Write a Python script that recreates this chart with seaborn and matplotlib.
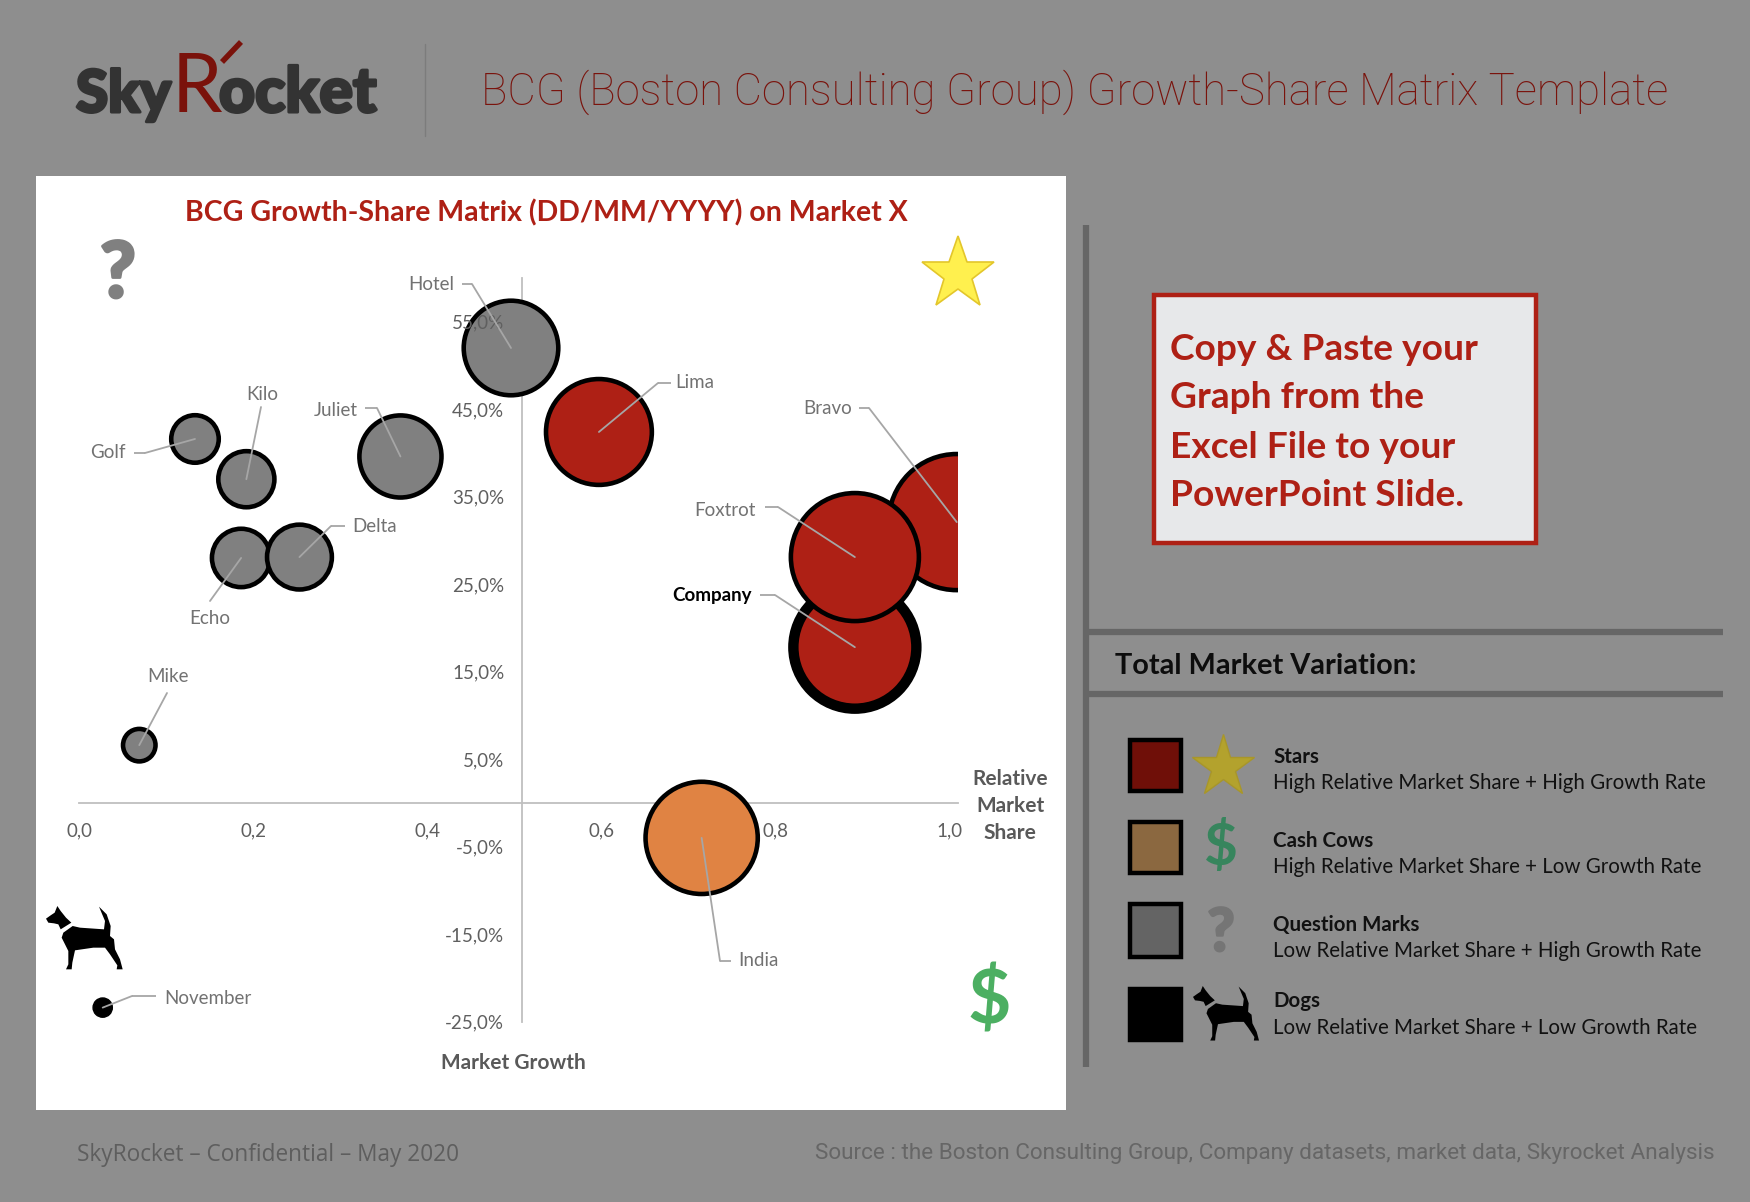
import matplotlib
matplotlib.use("Agg")
import matplotlib.pyplot as plt
from matplotlib.patches import Polygon, Rectangle
import matplotlib.patheffects as pe
import pandas as pd
import seaborn as sns

names = ["Bravo", "Company", "Foxtrot", "Hotel", "Lima", "Juliet", "Golf", "Kilo", "Echo", "Delta", "Mike", "India", "November"]
share = [1.008, 0.891, 0.891, 0.496, 0.597, 0.369, 0.133, 0.192, 0.186, 0.253, 0.069, 0.715, 0.027]
growth = [32.1, 17.8, 28.1, 52.0, 42.4, 39.6, 41.6, 37.0, 28.0, 28.1, 6.6, -4.0, -23.4]
market_size = [100, 81.7, 88.5, 48.3, 60.5, 36.4, 12.2, 17, 18.4, 22.7, 5.7, 68, 2]
quadrant = ["Stars", "Stars", "Stars", "Question Marks", "Stars", "Question Marks", "Question Marks",
            "Question Marks", "Question Marks", "Question Marks", "Question Marks", "Cash Cows", "Dogs"]
xticks = [0.0, 0.2, 0.4, 0.6, 0.8, 1.0]
xticklabels = ["0,0", "0,2", "0,4", "0,6", "0,8", "1,0"]
yticks = [-25, -15, -5, 5, 15, 25, 35, 45, 55]
yticklabels = ["-25,0%", "-15,0%", "-5,0%", "5,0%", "15,0%", "25,0%", "35,0%", "45,0%", "55,0%"]
legend_heads = ["Stars", "Cash Cows", "Question Marks", "Dogs"]
legend_subs = ["High Relative Market Share + High Growth Rate", "High Relative Market Share + Low Growth Rate",
               "Low Relative Market Share + High Growth Rate", "Low Relative Market Share + Low Growth Rate"]
callout = ["Copy & Paste your", "Graph from the", "Excel File to your", "PowerPoint Slide."]

sns.set_theme(style="white")
plt.rcParams["font.family"] = ["Lato", "DejaVu Sans"]

GRID = "#BFBFBF"
LABEL = "#727272"
TICK = "#5F5F5F"
palette = {"Stars": "#AE2015", "Cash Cows": "#E08343", "Question Marks": "#808080", "Dogs": "#000000"}

fig = plt.figure(figsize=(17.5, 12.02), dpi=100, facecolor="#8E8E8E")
bg = fig.add_axes([0, 0, 1, 1], zorder=0)
bg.set_xlim(0, 1750)
bg.set_ylim(1202, 0)
bg.axis("off")

# white chart panel
bg.add_patch(Rectangle((36, 176), 1030, 934, fc="white", ec="none"))

# main bubble axes
L, R, T, B = 79.2, 957.6, 278, 1021.6
ax = fig.add_axes([L / 1750, 1 - B / 1202, (R - L) / 1750, (B - T) / 1202], zorder=1)
ax.patch.set_visible(False)
df = pd.DataFrame({"name": names, "share": share, "growth": growth, "size": market_size, "quadrant": quadrant})
sns.scatterplot(data=df, x="share", y="growth", hue="quadrant", palette=palette, size="size",
                sizes=(0, 9600), size_norm=(0, 100), legend=False, edgecolor="black", linewidth=3.3,
                ax=ax, zorder=2)
coll = ax.collections[0]
coll.set_linewidths([3.3, 7.5, 3.3, 3.3, 3.3, 3.3, 3.3, 3.3, 3.3, 3.3, 3.3, 3.3, 1.0])
ax.set_xlim(0, 1.009)
ax.set_ylim(-25, 60)
ax.set_xlabel("")
ax.set_ylabel("")
ax.set_xticks(xticks, xticklabels)
ax.set_yticks(yticks, yticklabels)
ax.set_axisbelow(False)
ax.tick_params(axis="both", length=0, labelsize=13.5, labelcolor=TICK)
ax.tick_params(axis="x", pad=14)
ax.tick_params(axis="y", pad=13)
for s in ["top", "right"]:
    ax.spines[s].set_visible(False)
ax.spines["left"].set_position(("data", 0.509))
ax.spines["bottom"].set_position(("data", 0))
for s in ["left", "bottom"]:
    ax.spines[s].set_color(GRID)
    ax.spines[s].set_linewidth(1.3)
    ax.spines[s].set_zorder(1.5)

# data-label leaders: text anchor, alignment, leader start, optional elbow (page pixels)
leaders = {
    "Hotel": ((454, 284), "right", (462, 284), (472, 284)),
    "Lima": ((675, 383), "left", (671, 383), (658, 383)),
    "Juliet": ((358, 411), "right", (365, 408), (377, 408)),
    "Golf": ((126, 453), "right", (134, 453), (145, 453)),
    "Kilo": ((262, 394), "center", (261, 407), None),
    "Echo": ((210, 619), "center", (210, 601), None),
    "Delta": ((352, 526), "left", (345, 526), (331, 526)),
    "Mike": ((168, 677), "center", (167, 693), None),
    "Bravo": ((852, 409), "right", (859, 408), (869, 408)),
    "Foxtrot": ((756, 510), "right", (765, 507), (778, 507)),
    "Company": ((752, 595), "right", (760, 595), (775, 595)),
    "India": ((738, 961), "left", (731, 961), (720, 961)),
    "November": ((164, 998), "left", (156, 996), (132, 996)),
}
LINE = "#A6A6A6"
for _, row in df.iterrows():
    (tx, ty), ha, start, elbow = leaders[row["name"]]
    bold = row["name"] == "Company"
    ax.annotate(row["name"], xy=(tx, ty), xycoords=bg.transData, ha=ha, va="center",
                fontsize=13.5, color="black" if bold else LABEL, fontweight="bold" if bold else "normal",
                annotation_clip=False)
    if elbow is not None:
        bg.plot([start[0], elbow[0]], [start[1], elbow[1]], color=LINE, lw=1.3, solid_capstyle="butt")
    ax.annotate("", xy=(row["share"], row["growth"]), xycoords="data",
                xytext=elbow if elbow is not None else start, textcoords=bg.transData,
                arrowprops=dict(arrowstyle="-", color=LINE, lw=1.3, shrinkA=0, shrinkB=0),
                annotation_clip=False, zorder=4)

# titles in chart
bg.text(546, 213, "BCG Growth-Share Matrix (DD/MM/YYYY) on Market X", ha="center", va="center",
        fontsize=20.5, fontweight="bold", color="#AE2015")
bg.text(513, 1063, "Market Growth", ha="center", va="center", fontsize=15, fontweight="bold", color="#595959")
for yy, w in zip([779, 806, 833], ["Relative", "Market", "Share"]):
    bg.text(1010, yy, w, ha="center", va="center", fontsize=15, fontweight="bold", color="#595959")


def dog(x0, y0, k):
    head = [(48, 118), (62, 108), (74, 100), (82, 80), (92, 95), (108, 115), (124, 130), (92, 150), (85, 135),
            (72, 132), (55, 130)]
    body = [(100, 160), (128, 140), (150, 145), (222, 150), (225, 125), (207, 82), (230, 105), (242, 140),
            (240, 170), (252, 180), (255, 210), (270, 240), (278, 270), (260, 270), (262, 258), (240, 225),
            (225, 205), (190, 205), (135, 213), (127, 250), (125, 270), (108, 270), (115, 255), (115, 215),
            (95, 175)]
    for poly in (head, body):
        bg.add_patch(Polygon([(x0 + (px - 48) * k, y0 + (py - 80) * k) for px, py in poly], fc="black", ec="none"))


# quadrant icons in chart
heavy = [pe.withStroke(linewidth=2, foreground="#808080")]
bg.text(118, 275, "?", ha="center", va="center", fontsize=56, fontweight="black", color="#808080", path_effects=heavy)
bg.plot([958], [274], marker="*", ms=55, mfc="#FFF04E", mec="#E3C62B", mew=1.2)
bg.text(989, 1001, "$", ha="center", va="center", fontsize=54, fontweight="bold", color="#4CAF62")
dog(46, 906, 1 / 3)

# header
logo = [pe.withStroke(linewidth=2.2, foreground="#333333")]
bg.text(76, 112, "Sky", ha="left", va="baseline", fontsize=42, fontweight="black", color="#333333", path_effects=logo)
bg.text(172, 112, "R", ha="left", va="baseline", fontsize=58, color="#7A120B")
bg.plot([222, 241], [62, 42], color="#7A120B", lw=4, solid_capstyle="butt")
bg.text(219, 112, "ocket", ha="left", va="baseline", fontsize=45, fontweight="black", color="#333333", path_effects=logo)
bg.plot([424.6, 424.6], [44, 136], color="#7C7C7C", lw=1)
bg.text(481, 105, "BCG (Boston Consulting Group) Growth-Share Matrix Template", ha="left", va="baseline",
        fontsize=31.5, fontfamily="Roboto", fontweight="light", color="#7A130C")

# right panel
bg.plot([1086, 1086], [225, 1067], color="#666666", lw=4.5, solid_capstyle="butt")
for yy in (632, 694):
    bg.plot([1089, 1723], [yy, yy], color="#666666", lw=4.5, solid_capstyle="butt")
bg.text(1115, 666, "Total Market Variation:", ha="left", va="center", fontsize=20.8, fontweight="bold", color="#0D0D0D")

bg.add_patch(Rectangle((1154, 295), 382, 248, fc="#E7E8EA", ec="#AE2015", lw=3.2))
for yy, line in zip([349, 397, 447, 495], callout):
    bg.text(1170, yy, line, ha="left", va="center", fontsize=26.7, fontweight="bold", color="#AE2015")

swatches = ["#6F0F08", "#8B6840", "#646464", "#000000"]
swatch_y = [(738, 793), (820, 875), (902, 959), (987, 1042)]
head_y = [757, 841, 925, 1001]
sub_y = [783, 867, 951, 1028]
for c, (y0, y1), h, hy, s, sy in zip(swatches, swatch_y, legend_heads, head_y, legend_subs, sub_y):
    bg.add_patch(Rectangle((1130, y0 + 2), 51, y1 - y0 - 4, fc=c, ec="black", lw=3.2))
    bg.text(1273, hy, h, ha="left", va="center", fontsize=14.8, fontweight="bold", color="#111111")
    bg.text(1273, sy, s, ha="left", va="center", fontsize=14.8, color="#111111")
bg.plot([1223], [767], marker="*", ms=47, mfc="#B3A22D", mec="#A8962A", mew=1)
bg.text(1221, 848, "$", ha="center", va="center", fontsize=42, fontweight="bold", color="#37855D")
heavy2 = [pe.withStroke(linewidth=1.5, foreground="#757575")]
bg.text(1221, 933, "?", ha="center", va="center", fontsize=43, fontweight="black", color="#757575", path_effects=heavy2)
dog(1193, 986, 0.287)

# footer
bg.text(77, 1155, "SkyRocket – Confidential – May 2020", ha="left", va="center", fontsize=16.3,
        fontfamily="Open Sans", color="#5E5E5E")
bg.text(1715, 1154, "Source : the Boston Consulting Group, Company datasets, market data, Skyrocket Analysis",
        ha="right", va="center", fontsize=16.2, fontfamily="Roboto", fontweight="normal", color="#666666")

fig.savefig("out.png", dpi=100, facecolor=fig.get_facecolor())
